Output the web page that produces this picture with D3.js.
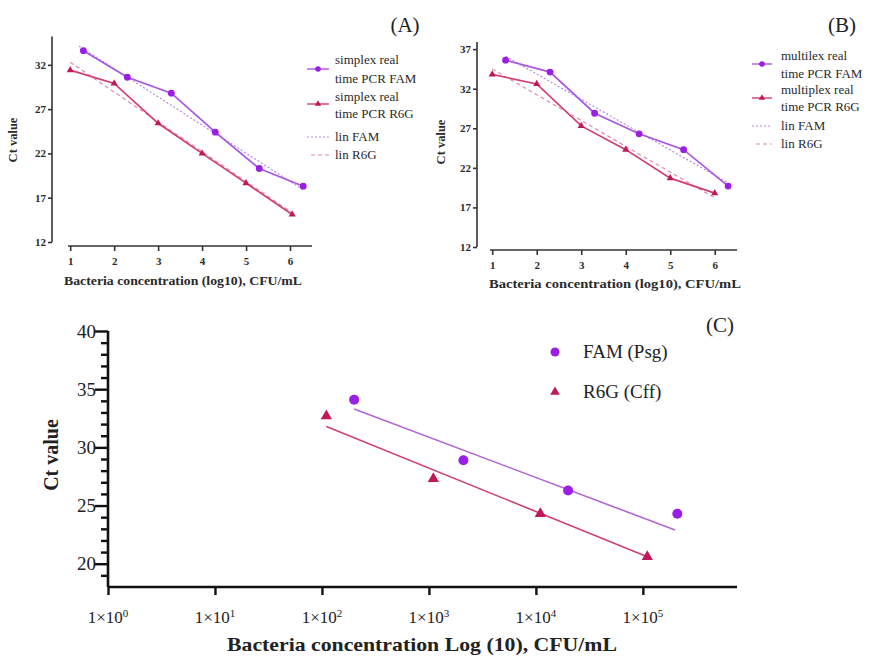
<!DOCTYPE html>
<html>
<head>
<meta charset="utf-8">
<script src="https://cdn.jsdelivr.net/npm/d3@7"></script>
<style>
  body { margin: 0; background: #fff; }
  text { font-family: "Liberation Serif", "DejaVu Serif", serif; }
</style>
</head>
<body>
<svg id="chart" width="879" height="656"></svg>
<script>
// panel A - simplex
const aFamX = [1.3, 2.3, 3.3, 4.3, 5.3, 6.3];
const aFamY = [33.6, 30.6, 28.8, 24.4, 20.3, 18.3];
const aR6gX = [1, 2, 3, 4, 5, 6.05];
const aR6gY = [31.4, 29.9, 25.4, 22.0, 18.65, 15.1];
const aLinFamX = [1.2, 6.3], aLinFamY = [34.1, 17.9];
const aLinR6gX = [1.0, 6.05], aLinR6gY = [32.3, 15.3];
const aYTicks = [12, 17, 22, 27, 32];

// panel B - multiplex
const bFamX = [1.3, 2.3, 3.3, 4.3, 5.3, 6.3];
const bFamY = [35.6, 34.1, 28.9, 26.3, 24.3, 19.7];
const bR6gX = [1, 2, 3, 4, 5, 6];
const bR6gY = [33.8, 32.6, 27.3, 24.3, 20.7, 18.8];
const bLinFamX = [1.3, 6.3], bLinFamY = [36.1, 20.1];
const bLinR6gX = [1.0, 6.0], bLinR6gY = [34.5, 18.2];
const bYTicks = [12, 17, 22, 27, 32, 37];

const xTicksAB = [1, 2, 3, 4, 5, 6];

// panel C - standard curves
const cFamX = [200, 2100, 20000, 210000];
const cFamY = [34.1, 28.9, 26.3, 24.3];
const cR6gX = [110, 1100, 11000, 110000];
const cR6gY = [32.7, 27.3, 24.3, 20.6];
const cFitFamX = [200, 200000], cFitFamY = [33.3, 22.9];
const cFitR6gX = [110, 110000], cFitR6gY = [31.8, 20.6];
const cXTicks = [1, 10, 100, 1000, 10000, 100000];
const cXExp = ["0", "1", "2", "3", "4", "5"];
const cYTicks = [20, 25, 30, 35, 40];

const famDot = "#9a1ee6", famLine = "#a955e4";
const r6gDot = "#c0185a", r6gLine = "#d23c70";

const svg = d3.select("#chart");
svg.append("rect").attr("width", 879).attr("height", 656).attr("fill", "#fff");

function zip(xs, ys) { return xs.map((x, i) => ({x: x, y: ys[i]})); }

function smallPanel(o) {
    const x = d3.scaleLinear().domain([0.95, 6.5]).range([o.x0, o.x1]);
    const y = d3.scaleLinear().domain([12, o.ymax]).range([o.y0, o.y1]);
    const g = svg.append("g");

    const ya = g.append("g").attr("transform", "translate(" + o.axX + ",0)")
        .call(d3.axisLeft(y).tickValues(o.yTicks).tickSize(4).tickPadding(2).tickFormat(d3.format("d")));
    const xa = g.append("g").attr("transform", "translate(0," + o.axY + ")")
        .call(d3.axisBottom(x).tickValues(xTicksAB).tickSize(5).tickPadding(6).tickFormat(d3.format("d")));
    [ya, xa].forEach(a => {
        a.select(".domain").attr("stroke", "#333").attr("stroke-width", 1.6);
        a.selectAll(".tick line").attr("stroke", "#333").attr("stroke-width", 1.6);
        a.selectAll("text").attr("fill", "#2a2a2a").attr("font-size", 11).attr("font-weight", "bold")
            .style("font-family", "Liberation Serif, serif");
    });
    xa.select(".domain").attr("d", "M" + o.x0 + ",0H" + o.x1);
    ya.select(".domain").attr("d", "M0," + o.y0 + "V" + o.y1);

    g.append("text").attr("transform", "translate(" + o.ylabX + "," + o.ylabY + ") rotate(-90)")
        .attr("text-anchor", "middle").attr("font-size", 12.5).attr("font-weight", "bold").attr("fill", "#2a2a2a")
        .text("Ct value");
    g.append("text").attr("x", o.xlabX).attr("y", o.xlabY).attr("text-anchor", "middle")
        .attr("font-size", 12).attr("font-weight", "bold").attr("fill", "#2a2a2a")
        .attr("textLength", o.xlabW).attr("lengthAdjust", "spacingAndGlyphs")
        .text("Bacteria concentration (log10), CFU/mL");

    const line = d3.line().x(d => x(d.x)).y(d => y(d.y));
    g.append("path").datum(zip(o.linFamX, o.linFamY)).attr("d", line)
        .attr("fill", "none").attr("stroke", "#b58ae0").attr("stroke-width", 1.2).attr("stroke-dasharray", "2,2");
    g.append("path").datum(zip(o.linR6gX, o.linR6gY)).attr("d", line)
        .attr("fill", "none").attr("stroke", "#e08aa8").attr("stroke-width", 1.2).attr("stroke-dasharray", "4,3");
    g.append("path").datum(zip(o.famX, o.famY)).attr("d", line)
        .attr("fill", "none").attr("stroke", famLine).attr("stroke-width", 1.7);
    g.append("path").datum(zip(o.r6gX, o.r6gY)).attr("d", line)
        .attr("fill", "none").attr("stroke", r6gLine).attr("stroke-width", 1.7);
    g.selectAll(".fam").data(zip(o.famX, o.famY)).join("circle")
        .attr("cx", d => x(d.x)).attr("cy", d => y(d.y)).attr("r", 3.4).attr("fill", famDot);
    g.selectAll(".r6g").data(zip(o.r6gX, o.r6gY)).join("path")
        .attr("transform", d => "translate(" + x(d.x) + "," + y(d.y) + ")")
        .attr("d", d3.symbol(d3.symbolTriangle, 22)).attr("fill", r6gDot);

    // legend
    const L = o.leg;
    const lg = g.append("g");
    [[L.m1, famLine, famDot, "circle"], [L.m2, r6gLine, r6gDot, "tri"]].forEach(m => {
        lg.append("line").attr("x1", L.lx0).attr("x2", L.lx1).attr("y1", m[0]).attr("y2", m[0])
            .attr("stroke", m[1]).attr("stroke-width", 1.4);
        const cx = (L.lx0 + L.lx1) / 2;
        if (m[3] === "circle") lg.append("circle").attr("cx", cx).attr("cy", m[0]).attr("r", 2.8).attr("fill", m[2]);
        else lg.append("path").attr("transform", "translate(" + cx + "," + m[0] + ")")
            .attr("d", d3.symbol(d3.symbolTriangle, 18)).attr("fill", m[2]);
    });
    lg.append("line").attr("x1", L.lx0).attr("x2", L.lx1).attr("y1", L.m3).attr("y2", L.m3)
        .attr("stroke", "#b58ae0").attr("stroke-width", 1.2).attr("stroke-dasharray", "2,2");
    lg.append("line").attr("x1", L.lx0 + 4).attr("x2", L.lx1).attr("y1", L.m4).attr("y2", L.m4)
        .attr("stroke", "#e08aa8").attr("stroke-width", 1.2).attr("stroke-dasharray", "4,3");
    L.texts.forEach(t => {
        lg.append("text").attr("x", t[0]).attr("y", t[1]).attr("font-size", 13)
            .attr("fill", "#2a2a2a").text(t[2]);
    });

    svg.append("text").attr("x", o.tagX).attr("y", 32).attr("text-anchor", "middle")
        .attr("font-size", 21).attr("fill", "#222").text(o.tag);
}

smallPanel({
    x0: 68, x1: 312, y0: 242, y1: 36.5, ymax: 35.2, axX: 52, axY: 246,
    yTicks: aYTicks, ylabX: 17, ylabY: 140, xlabX: 183, xlabY: 285, xlabW: 238,
    famX: aFamX, famY: aFamY, r6gX: aR6gX, r6gY: aR6gY,
    linFamX: aLinFamX, linFamY: aLinFamY, linR6gX: aLinR6gX, linR6gY: aLinR6gY,
    tag: "(A)", tagX: 405,
    leg: { lx0: 307, lx1: 329, m1: 69, m2: 104, m3: 137, m4: 155,
        texts: [[335, 64, "simplex real"], [335, 83, "time PCR FAM"], [335, 101, "simplex real"],
                [335, 118, "time PCR R6G"], [335, 141, "lin FAM"], [335, 159, "lin R6G"]] }
});

smallPanel({
    x0: 490, x1: 737, y0: 247, y1: 42, ymax: 37.9, axX: 477, axY: 250,
    yTicks: bYTicks, ylabX: 445, ylabY: 142, xlabX: 615, xlabY: 288, xlabW: 252,
    famX: bFamX, famY: bFamY, r6gX: bR6gX, r6gY: bR6gY,
    linFamX: bLinFamX, linFamY: bLinFamY, linR6gX: bLinR6gX, linR6gY: bLinR6gY,
    tag: "(B)", tagX: 842,
    leg: { lx0: 752, lx1: 772, m1: 64, m2: 98, m3: 126, m4: 144,
        texts: [[781, 60, "multilex real"], [781, 78, "time PCR FAM"], [781, 94, "multiplex real"],
                [781, 111, "time PCR R6G"], [781, 130, "lin FAM"], [781, 148, "lin R6G"]] }
});

// panel C
const cx = d3.scaleLog().domain([1, 10 ** 5.88]).range([108, 737]);
const cy = d3.scaleLinear().domain([18, 40]).range([587, 331]);
const gc = svg.append("g");

const cya = gc.append("g").attr("transform", "translate(108,0)")
    .call(d3.axisLeft(cy).tickValues(d3.range(19, 41)).tickSize(6).tickFormat(""));
cya.selectAll(".tick line").attr("x2", d => cYTicks.includes(d) ? -13 : -7)
    .attr("stroke", "#111").attr("stroke-width", 2.4);
cya.select(".domain").attr("stroke", "#111").attr("stroke-width", 2.6).attr("d", "M0,587V331");
cYTicks.forEach(v => {
    gc.append("text").attr("x", 96).attr("y", cy(v) + 6.5).attr("text-anchor", "end")
        .attr("font-size", 19).attr("fill", "#222").text(v);
});

const cxa = gc.append("g").attr("transform", "translate(0,587)")
    .call(d3.axisBottom(cx).tickValues(cXTicks).tickSize(8).tickFormat(""));
cxa.selectAll(".tick line").attr("stroke", "#111").attr("stroke-width", 2.4);
cxa.select(".domain").attr("stroke", "#111").attr("stroke-width", 2.6).attr("d", "M108,0H737");
cXTicks.forEach((v, i) => {
    const t = gc.append("text").attr("x", cx(v)).attr("y", 623).attr("text-anchor", "middle")
        .attr("font-size", 17).attr("fill", "#222");
    t.append("tspan").text("1×10");
    t.append("tspan").attr("dy", -6).attr("font-size", 11).text(cXExp[i]);
});

gc.append("text").attr("transform", "translate(58,455) rotate(-90)").attr("text-anchor", "middle")
    .attr("font-size", 20).attr("font-weight", "bold").attr("fill", "#222").text("Ct value");
gc.append("text").attr("x", 422).attr("y", 651).attr("text-anchor", "middle")
    .attr("font-size", 19).attr("font-weight", "bold").attr("fill", "#222")
    .attr("textLength", 390).attr("lengthAdjust", "spacingAndGlyphs")
    .text("Bacteria concentration Log (10), CFU/mL");

const cline = d3.line().x(d => cx(d.x)).y(d => cy(d.y));
gc.append("path").datum(zip(cFitFamX, cFitFamY)).attr("d", cline)
    .attr("fill", "none").attr("stroke", "#b266d6").attr("stroke-width", 1.6);
gc.append("path").datum(zip(cFitR6gX, cFitR6gY)).attr("d", cline)
    .attr("fill", "none").attr("stroke", "#d0406e").attr("stroke-width", 1.6);
gc.selectAll(".cf").data(zip(cFamX, cFamY)).join("circle")
    .attr("cx", d => cx(d.x)).attr("cy", d => cy(d.y)).attr("r", 5).attr("fill", famDot);
gc.selectAll(".cr").data(zip(cR6gX, cR6gY)).join("path")
    .attr("transform", d => "translate(" + cx(d.x) + "," + cy(d.y) + ")")
    .attr("d", d3.symbol(d3.symbolTriangle, 55)).attr("fill", r6gDot);

gc.append("circle").attr("cx", 555).attr("cy", 352).attr("r", 4.5).attr("fill", famDot);
gc.append("path").attr("transform", "translate(555,392)").attr("d", d3.symbol(d3.symbolTriangle, 40)).attr("fill", r6gDot);
gc.append("text").attr("x", 583).attr("y", 358).attr("font-size", 19).attr("fill", "#222").text("FAM (Psg)");
gc.append("text").attr("x", 583).attr("y", 398).attr("font-size", 19).attr("fill", "#222").text("R6G (Cff)");
gc.append("text").attr("x", 720).attr("y", 332).attr("text-anchor", "middle")
    .attr("font-size", 21).attr("fill", "#222").text("(C)");
</script>
</body>
</html>
